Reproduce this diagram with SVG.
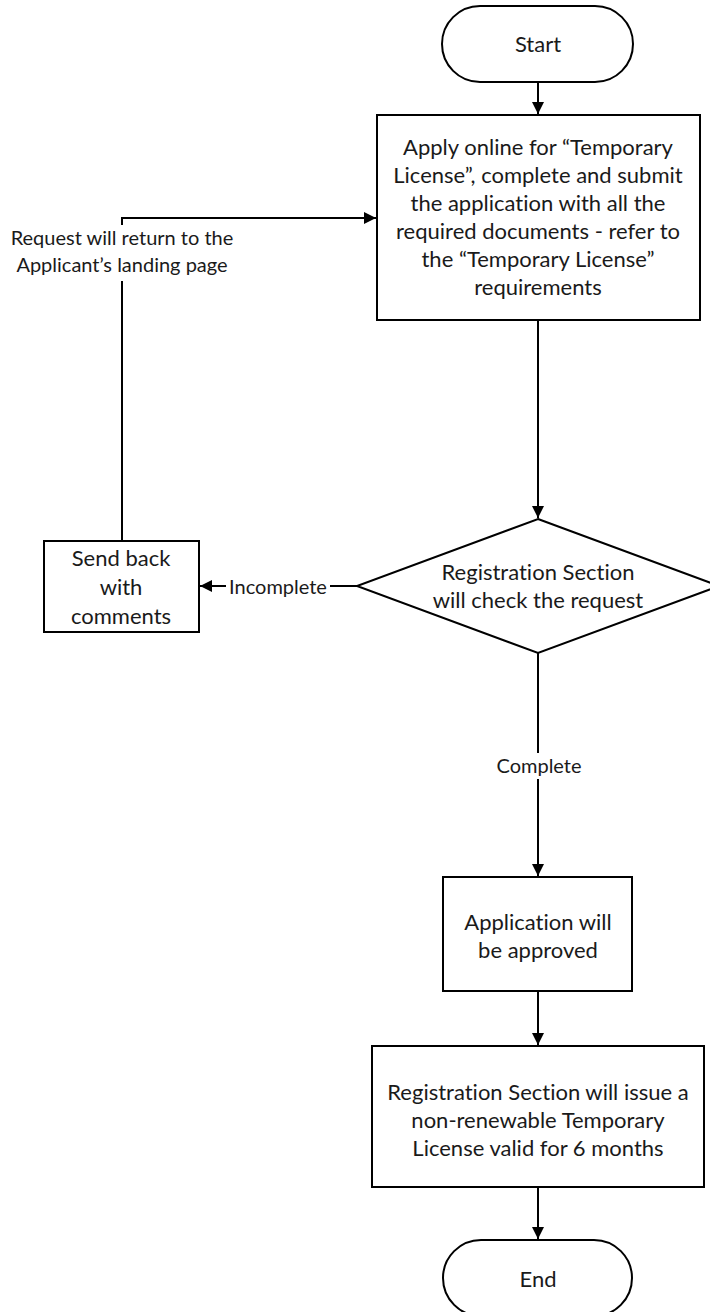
<svg xmlns="http://www.w3.org/2000/svg" width="710" height="1312" viewBox="0 0 710 1312">
<style>
.shape{fill:#ffffff;stroke:#000000;stroke-width:2}
.conn{fill:none;stroke:#000000;stroke-width:2}
.t{font-family:Lato,"Liberation Sans",sans-serif;font-size:22px;fill:#1a1a1a;text-anchor:middle;font-variant-ligatures:none}
.lbl{font-family:Lato,"Liberation Sans",sans-serif;font-size:20px;fill:#1a1a1a;text-anchor:middle;font-variant-ligatures:none}
.bg{fill:#ffffff;stroke:none}
</style>
<defs>
<marker id="arrow" markerUnits="userSpaceOnUse" markerWidth="13" markerHeight="13" refX="12" refY="6.5" orient="auto" viewBox="0 0 13 13">
<path d="M0,0.5 L12,6.5 L0,12.5 z" fill="#000000"/>
</marker>
</defs>
<rect width="710" height="1312" fill="#ffffff"/>
<g id="connectors">
<path class="conn" d="M538,82 V114" marker-end="url(#arrow)"/>
<path class="conn" d="M538,320 V518" marker-end="url(#arrow)"/>
<path class="conn" d="M357,586 H200" marker-end="url(#arrow)"/>
<path class="conn" d="M122,541 V218 H376" marker-end="url(#arrow)"/>
<path class="conn" d="M538,653 V876" marker-end="url(#arrow)"/>
<path class="conn" d="M538,991 V1045" marker-end="url(#arrow)"/>
<path class="conn" d="M538,1187 V1239" marker-end="url(#arrow)"/>
<g id="label-return">
<rect class="bg" x="6" y="225" width="234" height="56"/>
<text class="lbl" x="122" y="245">Request will return to the</text>
<text class="lbl" x="122" y="272">Applicant’s landing page</text>
</g>
<g id="label-incomplete">
<rect class="bg" x="226" y="576" width="104" height="22"/>
<text class="lbl" x="278" y="594">Incomplete</text>
</g>
<g id="label-complete">
<rect class="bg" x="493" y="753" width="92" height="26"/>
<text class="lbl" x="539" y="773">Complete</text>
</g>
</g>
<g id="start">
<rect class="shape" x="442" y="6" width="191" height="76" rx="38" ry="38"/>
<text class="t" x="538" y="52">Start</text>
</g>
<g id="apply">
<rect class="shape" x="377" y="115" width="323" height="205"/>
<text class="t" x="538" y="155">Apply online for “Temporary</text>
<text class="t" x="538" y="183">License”, complete and submit</text>
<text class="t" x="538" y="211">the application with all the</text>
<text class="t" x="538" y="239">required documents - refer to</text>
<text class="t" x="538" y="267">the “Temporary License”</text>
<text class="t" x="538" y="295">requirements</text>
</g>
<g id="check">
<polygon class="shape" points="538,519 719,586 538,653 357,586"/>
<text class="t" x="538" y="580">Registration Section</text>
<text class="t" x="538" y="608">will check the request</text>
</g>
<g id="sendback">
<rect class="shape" x="44" y="541" width="155" height="91"/>
<text class="t" x="121" y="566">Send  back</text>
<text class="t" x="121" y="595">with</text>
<text class="t" x="121" y="624">comments</text>
</g>
<g id="approved">
<rect class="shape" x="443" y="877" width="189" height="114"/>
<text class="t" x="538" y="930">Application will</text>
<text class="t" x="538" y="958">be approved</text>
</g>
<g id="issue">
<rect class="shape" x="372" y="1046" width="332" height="141"/>
<text class="t" x="538" y="1100">Registration Section will issue a</text>
<text class="t" x="538" y="1128">non-renewable Temporary</text>
<text class="t" x="538" y="1156">License valid for 6 months</text>
</g>
<g id="end">
<rect class="shape" x="443" y="1240" width="189" height="76" rx="38" ry="38"/>
<text class="t" x="538" y="1287">End</text>
</g>
</svg>
